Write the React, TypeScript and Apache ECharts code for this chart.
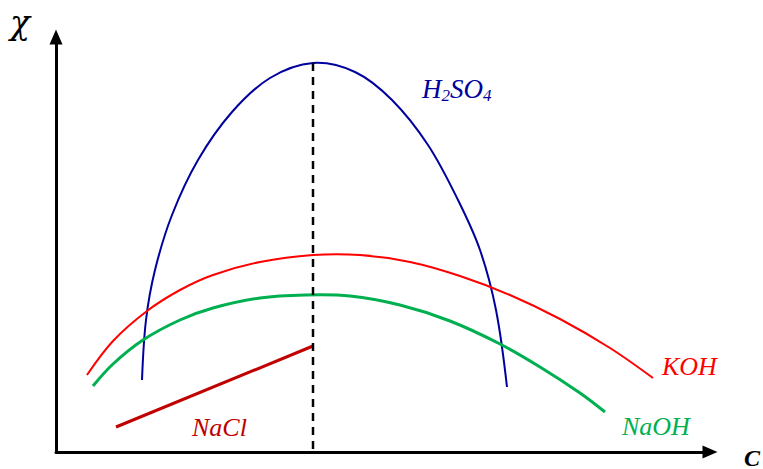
import React, { useEffect, useRef } from "react";
import * as echarts from "echarts";

// Points (x: concentration C, y: conductivity χ), arbitrary units
const h2so4X = [86, 90, 99, 116, 142, 176, 214, 257, 299, 336, 372, 402, 424, 440, 451];
const h2so4Y = [72, 132, 182, 237, 292, 340, 374, 389, 380, 352, 307, 252, 202, 142, 65];

const kohX = [31, 57, 91, 124, 157, 204, 257, 304, 354, 404, 454, 504, 554, 597];
const kohY = [77, 111, 141, 162, 177, 190, 197, 197, 190, 176, 157, 133, 104, 74];

const naohX = [37, 57, 87, 124, 157, 204, 249, 294, 344, 394, 444, 484, 524, 549];
const naohY = [66, 88, 112, 132, 144, 154, 157, 156, 147, 131, 108, 85, 59, 40];

const naclX = [60, 257];
const naclY = [25, 106];

const peakX = [257, 257];
const peakY = [389, 0];

const curveNames = ["H2SO4", "KOH", "NaOH"];
const curveColors = ["#00009C", "#FF0000", "#00B050"];
const curveWidths = [2, 2, 3];

const zip = (xs: number[], ys: number[]) => xs.map((x, i) => [x, ys[i]]);
const curves = [zip(h2so4X, h2so4Y), zip(kohX, kohY), zip(naohX, naohY)];

const FONT = "'Liberation Serif', 'Times New Roman', serif";

export default function App() {
  const ref = useRef<HTMLDivElement>(null);
  useEffect(() => {
    if (!ref.current) return;
    const chart = echarts.init(ref.current, undefined, { renderer: "svg" });
    const axisLine = {
      show: true,
      lineStyle: { color: "#000", width: 3 },
      symbol: ["none", "triangle"],
      symbolSize: [13, 15],
    };
    const curveSeries = curves.map((pts, ci) => ({
      name: curveNames[ci],
      type: "custom",
      clip: false,
      data: [pts[0]],
      renderItem: (params: any, api: any) => ({
        type: "polyline",
        shape: {
          points: pts.map((p) => api.coord(p)),
          smooth: 0.35,
        },
        style: { stroke: curveColors[ci], lineWidth: curveWidths[ci], fill: null },
      }),
    }));
    chart.setOption({
      animation: false,
      backgroundColor: "#fff",
      grid: { left: 56, right: 53, top: 37, bottom: 17 },
      xAxis: {
        type: "value",
        min: 0,
        max: 654,
        axisLine,
        axisTick: { show: false },
        axisLabel: { show: false },
        splitLine: { show: false },
      },
      yAxis: {
        type: "value",
        min: 0,
        max: 415,
        axisLine,
        axisTick: { show: false },
        axisLabel: { show: false },
        splitLine: { show: false },
      },
      series: [
        ...curveSeries,
        {
          name: "NaCl",
          type: "line",
          data: zip(naclX, naclY),
          showSymbol: false,
          lineStyle: { color: "#C00000", width: 3 },
        },
        {
          name: "peak",
          type: "line",
          data: zip(peakX, peakY),
          showSymbol: false,
          z: 5,
          lineStyle: { color: "#000", width: 2.5, type: [8, 6] },
        },
      ],
      graphic: [
        {
          type: "text",
          x: 10,
          y: 22,
          style: {
            text: "χ",
            font: `italic 33px 'DejaVu Serif', serif`,
            fill: "#000",
            textAlign: "left",
            textVerticalAlign: "middle",
          },
        },
        {
          type: "text",
          x: 744,
          y: 457.5,
          style: {
            text: "C",
            font: `italic bold 24px ${FONT}`,
            fill: "#000",
            textAlign: "left",
            textVerticalAlign: "middle",
          },
        },
        {
          type: "text",
          x: 422,
          y: 88.5,
          style: {
            text: "{m|H}{s|2}{m|SO}{s|4}",
            fill: "#00009C",
            textAlign: "left",
            textVerticalAlign: "middle",
            rich: {
              m: { font: `italic 27px ${FONT}`, fill: "#00009C", lineHeight: 30 },
              s: { font: `italic 17px ${FONT}`, fill: "#00009C", lineHeight: 17, verticalAlign: "bottom" },
            },
          },
        },
        {
          type: "text",
          x: 662,
          y: 366.2,
          style: {
            text: "KOH",
            font: `italic 26px ${FONT}`,
            fill: "#FF0000",
            textAlign: "left",
            textVerticalAlign: "middle",
          },
        },
        {
          type: "text",
          x: 622,
          y: 426.2,
          style: {
            text: "NaOH",
            font: `italic 26px ${FONT}`,
            fill: "#00B050",
            textAlign: "left",
            textVerticalAlign: "middle",
          },
        },
        {
          type: "text",
          x: 192,
          y: 427.2,
          style: {
            text: "NaCl",
            font: `italic 26px ${FONT}`,
            fill: "#C00000",
            textAlign: "left",
            textVerticalAlign: "middle",
          },
        },
      ],
    });
    return () => chart.dispose();
  }, []);
  return <div ref={ref} style={{ width: 763, height: 469, position: "fixed", left: 0, top: 0 }} />;
}
